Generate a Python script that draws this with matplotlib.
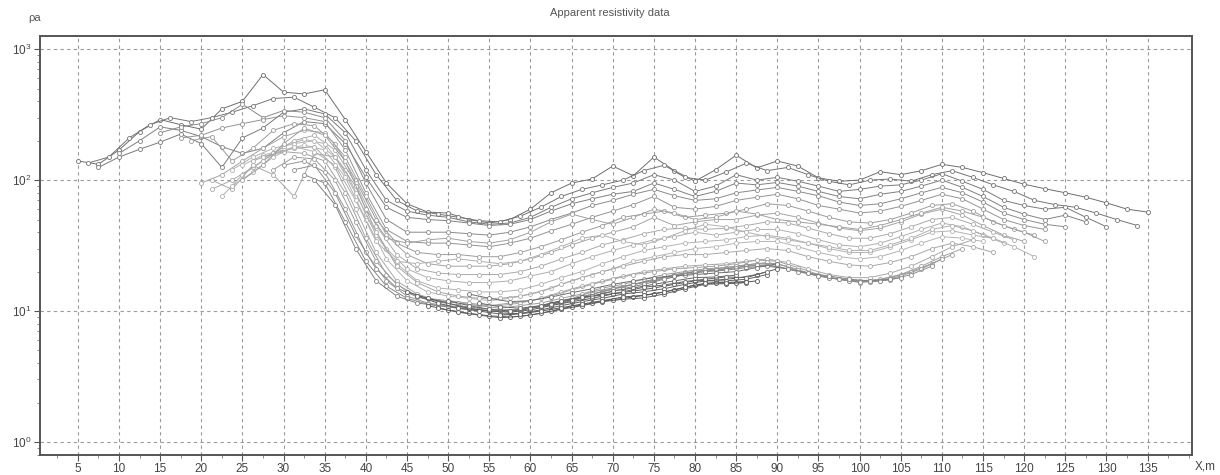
import numpy as np
import matplotlib
matplotlib.use("Agg")
import matplotlib.pyplot as plt
from matplotlib.ticker import LogLocator, MultipleLocator, NullFormatter

plt.rcParams['font.family'] = ['Liberation Sans', 'DejaVu Sans']
plt.rcParams['mathtext.fontset'] = 'custom'
plt.rcParams['mathtext.rm'] = 'Liberation Sans'
plt.rcParams['mathtext.it'] = 'Liberation Sans'

# ---------------- data ----------------
step = 2.5  # spacing of data points along the profile (m)

x_start = [5.0, 6.25, 7.5, 10.0, 15.0, 17.5, 18.75, 20.0, 21.25, 22.5,
           23.75, 25.0, 26.25, 27.5, 28.75, 30.0, 21.25, 31.25, 32.5, 33.75,
           45.0, 46.25, 47.5, 48.75, 50.0, 52.5, 23.75, 25.0, 53.75, 56.25]

rho_01 = [140, 132, 170, 235, 290, 265, 245, 350, 400, 640, 470, 455, 490, 290, 165, 95, 66, 57, 56, 50,
          47, 50, 60, 80, 95, 102, 128, 108, 150, 118, 98, 120, 155, 124, 140, 128, 104, 98, 100, 116,
          110, 118, 132, 125, 114, 103, 93, 86, 80, 74, 67, 60, 57]
rho_02 = [135, 150, 210, 265, 300, 280, 300, 330, 370, 420, 430, 360, 300, 200, 110, 70, 58, 55, 52, 49,
          48, 53, 62, 75, 85, 92, 100, 118, 130, 105, 100, 115, 135, 118, 125, 110, 98, 92, 100, 102,
          98, 110, 118, 105, 92, 82, 70, 65, 62, 56, 50, 45]
rho_03 = [125, 150, 172, 195, 225, 190, 125, 210, 250, 330, 350, 320, 230, 120, 70, 58, 54, 52, 48, 46,
          47, 52, 62, 72, 80, 88, 95, 110, 100, 82, 90, 110, 100, 105, 98, 90, 82, 85, 90, 92,
          100, 112, 98, 85, 70, 64, 60, 62, 52, 44]
rho_04 = [160, 200, 255, 240, 215, 180, 160, 175, 230, 280, 270, 190, 105, 62, 52, 50, 49, 47, 45, 46,
          50, 58, 66, 72, 78, 82, 95, 85, 75, 82, 95, 92, 96, 90, 82, 75, 72, 78, 82, 90,
          100, 88, 75, 62, 55, 50, 54, 48]
rho_05 = [230, 255, 270, 300, 380, 300, 340, 330, 300, 200, 95, 50, 40, 40, 40, 39, 38, 40, 44, 50,
          56, 64, 70, 78, 85, 76, 70, 72, 80, 84, 88, 82, 76, 68, 64, 66, 72, 80, 88, 80,
          68, 56, 50, 46, 44]
rho_06 = [210, 220, 250, 270, 290, 310, 300, 280, 170, 80, 42, 34, 33, 33, 32, 31, 33, 36, 41, 46,
          52, 58, 65, 75, 62, 60, 63, 70, 74, 78, 72, 64, 60, 56, 58, 63, 70, 78, 72, 60,
          50, 45, 42]
rho_07 = [200, 215, 140, 175, 240, 270, 260, 190, 100, 50, 33, 28, 27, 27, 26, 26, 28, 31, 35, 40,
          45, 52, 55, 58, 52, 54, 56, 60, 66, 64, 58, 52, 48, 47, 50, 56, 64, 66, 58, 48,
          42, 38]
rho_08 = [95, 110, 140, 175, 215, 240, 230, 150, 75, 38, 27, 23, 22, 22, 22, 23, 25, 28, 32, 36,
          40, 44, 52, 45, 48, 50, 50, 54, 56, 52, 47, 43, 41, 43, 48, 55, 60, 54, 45, 38,
          34]
rho_09 = [85, 100, 125, 160, 200, 220, 170, 95, 45, 27, 21, 19.5, 19, 19, 19, 20, 22, 25, 28, 32,
          35, 39, 42, 43, 42, 43, 45, 48, 47, 43, 39, 36, 36, 39, 44, 50, 52, 46, 40, 35]
rho_10 = [75, 110, 140, 180, 205, 190, 120, 55, 30, 21, 18, 17, 16.5, 16.5, 17, 18.5, 20, 23, 26, 29,
          32, 35, 37, 40, 38, 40, 42, 42, 39, 35, 32, 31, 33, 37, 42, 47, 44, 38, 33]
rho_11 = [120, 150, 175, 190, 200, 150, 80, 38, 23, 17, 15, 14.5, 14, 14, 14.5, 16, 18, 20, 23, 26,
          29, 31, 33, 34, 35, 37, 38, 36, 33, 30, 28, 28, 31, 35, 40, 41, 38, 36]
rho_12 = [130, 155, 170, 185, 170, 105, 50, 25, 17, 14, 13, 12.5, 12, 12.5, 13.5, 15, 17, 19, 21, 24,
          26, 28, 30, 31, 33, 34, 34, 31, 28, 26, 25, 26, 29, 33, 37, 36, 34]
rho_13 = [140, 160, 175, 180, 125, 60, 28, 17, 13.5, 12, 11.5, 11, 11, 11.5, 12.5, 14, 15.5, 17, 18.5, 20,
          21, 22, 22.5, 23, 24, 25, 23.5, 21, 19, 18, 18, 19.5, 22, 26, 31, 35]
rho_14 = [150, 165, 160, 140, 80, 36, 19, 14, 12.5, 12, 11.5, 11, 11.5, 12, 13, 14.5, 16, 17.5, 19, 20,
          21, 21.5, 22, 23, 24.5, 24, 21.5, 19, 17.5, 17, 17.5, 19, 22, 26, 30]
rho_15 = [120, 150, 145, 100, 48, 24, 16, 13, 12, 11.5, 11, 10.5, 11, 11.5, 12.5, 13.5, 15, 16, 17.5, 19,
          20, 21, 21.5, 22.5, 23.5, 22, 19.5, 18, 17, 17, 18, 20, 23, 27]
rho_16 = [130, 140, 115, 60, 28, 17, 13, 11.5, 11, 10.5, 10, 10, 10.5, 11.5, 12.5, 14, 15, 16, 17, 18.5,
          20, 21, 22, 23, 23, 20.5, 18.5, 17.5, 16.5, 17, 18.5, 21, 25]
rho_17 = [100, 85, 130, 110, 75, 160, 150, 90, 40, 22, 16.5, 14, 13, 12.5, 12.5, 13, 14, 16, 18, 20,
          22, 24, 26, 27, 27, 28, 29, 30, 29, 26, 24, 22.5, 22, 23.5, 26, 30, 33, 31, 28]
rho_18 = [120, 130, 80, 38, 21, 15, 12.8, 11.8, 11, 10.5, 10.2, 10.3, 10.8, 11.8, 12.8, 14, 15.3, 16.5, 18, 19.5,
          20.5, 21, 22, 22.5, 21, 19.5, 18, 17, 16.8, 17.3, 19, 22]
rho_19 = [110, 95, 48, 24, 15.5, 12.5, 11.3, 10.8, 10.3, 10, 10, 10.5, 11.3, 12.2, 13.5, 14.8, 16, 17.5, 19, 20,
          20.5, 21.5, 22.5, 22, 20, 18.5, 17.5, 16.8, 17, 18]
rho_20 = [100, 65, 30, 17, 13, 11.5, 11, 10.5, 10.2, 10, 10.2, 10.8, 11.5, 12.5, 13.5, 14.8, 16, 17.5, 19, 20,
          20.5, 21.5, 22, 21, 19.5, 18.5, 17.5, 17, 17.5]
rho_21 = [14, 12.5, 11.5, 10.5, 10, 9.8, 10.2, 11, 11.8, 12.5, 13.5, 14.2, 15, 16, 17, 17.2, 17.8, 19, 21]
rho_22 = [13, 11.5, 10.5, 10, 9.5, 9.6, 10.2, 11, 11.8, 12.5, 13.5, 14, 14.8, 16, 17, 17, 17.5, 19]
rho_23 = [11, 10.2, 9.6, 9.2, 9, 9.3, 10, 10.8, 11.5, 12.2, 12.8, 13.5, 14.5, 15.8, 16.5, 16.3, 17]
rho_24 = [10.5, 9.8, 9.3, 8.9, 9.1, 9.6, 10.3, 11, 11.8, 12.3, 12.6, 13.5, 14.8, 16, 16.2, 16.5]
rho_25 = [12, 11, 10.3, 10, 10.5, 11.3, 12.2, 13, 14.2, 15, 16, 17, 18, 18.2, 18.8]
rho_26 = [13.5, 12.5, 11.8, 12, 12.8, 13.8, 14.8, 16, 17, 18, 18.5, 19, 19.5, 20, 21.5, 23]
rho_27 = [90, 115, 150, 180, 165, 130, 70, 34, 24, 23, 24, 25, 24, 23, 24, 27, 31, 36, 38, 34,
          32, 36, 41, 46, 44, 40, 37, 35, 33, 31, 29, 29, 32, 36, 42, 45, 41, 36, 31, 26]
rho_28 = [100, 130, 190, 250, 220, 140, 60, 36, 33, 35, 36, 34, 33, 35, 40, 48, 55, 50, 46, 52,
          60, 56, 50, 52, 58, 55, 50, 48, 46, 44, 42, 45, 50, 56, 62, 58, 52, 45, 40, 34]
rho_29 = [11.5, 10.8, 10.5, 11, 12, 12.8, 13.2, 14, 15.2, 15.8, 16.8, 17.5, 18.2, 18, 20]
rho_30 = [9.3, 9.5, 10, 10.6, 11.3, 12, 12.8, 13.2, 14, 15.2, 16.3, 16.5, 16.8]

series = [rho_01, rho_02, rho_03, rho_04, rho_05, rho_06, rho_07, rho_08, rho_09, rho_10,
          rho_11, rho_12, rho_13, rho_14, rho_15, rho_16, rho_17, rho_18, rho_19, rho_20,
          rho_21, rho_22, rho_23, rho_24, rho_25, rho_26, rho_27, rho_28, rho_29, rho_30]

line_colors = ["#6e6e6e", "#747474", "#7a7a7a", "#808080", "#8a8a8a", "#939393", "#9c9c9c", "#a4a4a4",
               "#aaaaaa", "#afafaf", "#b2b2b2", "#b4b4b4", "#a8a8a8", "#a2a2a2", "#9c9c9c", "#969696",
               "#a8a8a8", "#8e8e8e", "#888888", "#828282",
               "#5a5a5a", "#606060", "#555555", "#5c5c5c", "#666666", "#707070",
               "#b0b0b0", "#a0a0a0", "#626262", "#585858"]

x_ticks = list(range(5, 140, 5))

# ---------------- plot ----------------
fig = plt.figure(figsize=(12.2, 4.75), dpi=100)
ax = fig.add_axes([0.0328, 0.042, 0.9443, 0.882])

for x0, vals, col in zip(x_start, series, line_colors):
    xs = x0 + step * np.arange(len(vals))
    ax.plot(xs, vals, color=col, lw=0.7, marker="o", ms=2.9, mfc="white",
            mec=col, mew=0.6, zorder=3)

ax.set_yscale("log")
ax.set_xlim(0.4, 140.4)
ax.set_ylim(10 ** -0.1, 10 ** 3.1)

ax.set_xticks(x_ticks)
ax.xaxis.set_minor_locator(MultipleLocator(2.5))
ax.yaxis.set_major_locator(LogLocator(base=10, numticks=10))
ax.yaxis.set_minor_locator(LogLocator(base=10, subs=np.arange(2, 10), numticks=20))
ax.yaxis.set_minor_formatter(NullFormatter())

ax.grid(True, which="major", color="#9a9a9a", lw=0.8, ls=(0, (3, 3)), zorder=1)
ax.tick_params(which="major", direction="out", length=4, width=0.8, colors="#555555",
               labelsize=8.5, labelcolor="#444444", pad=2)
ax.tick_params(which="minor", direction="out", length=2, width=0.6, colors="#777777")
for sp in ax.spines.values():
    sp.set_color("#555555")
    sp.set_linewidth(1.4)

fig.text(0.5, 0.972, "Apparent resistivity data", ha="center", va="center",
         fontsize=8, color="#555555")
fig.text(0.023, 0.962, "ρa", ha="left", va="center", fontsize=8, color="#555555")
fig.text(0.988, 0.017, "X,m", ha="center", va="center", fontsize=8.5, color="#444444")

fig.savefig("out.png", dpi=100)
